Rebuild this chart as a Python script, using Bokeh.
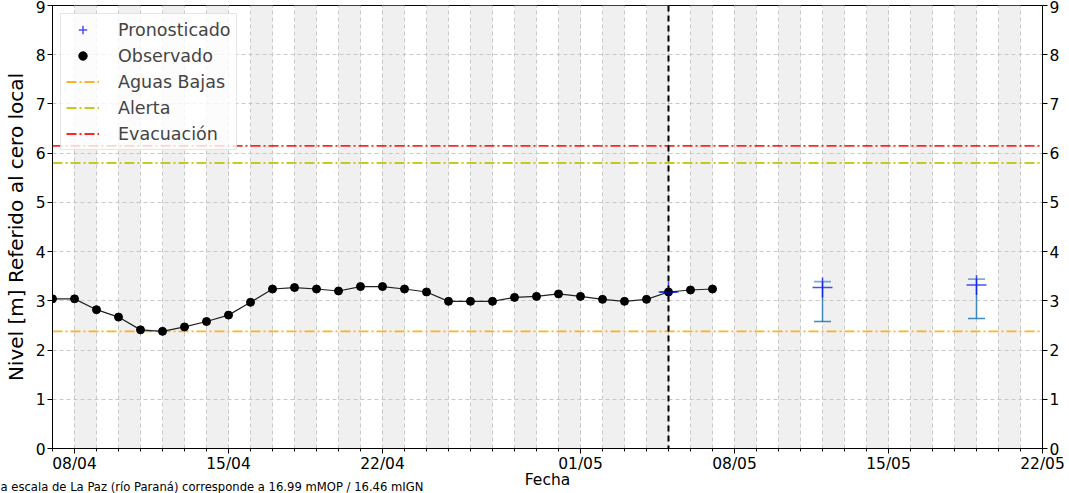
import pandas as pd
from bokeh.plotting import figure
from bokeh.models import (LinearAxis, FixedTicker, DatetimeTickFormatter, Range1d, Span,
                          Whisker, TeeHead, ColumnDataSource, Title, Legend, LegendItem)
from bokeh.embed import file_html
from bokeh.resources import INLINE

# ---------------- data ----------------
obs_start, obs_end = "2025-04-07", "2025-05-07"
obs_levels = [3.04, 3.04, 2.82, 2.67, 2.41, 2.38, 2.47, 2.58, 2.71, 2.97,
              3.24, 3.27, 3.24, 3.20, 3.29, 3.29, 3.24, 3.18, 2.99, 2.99,
              2.99, 3.07, 3.09, 3.14, 3.09, 3.03, 2.99, 3.03, 3.18, 3.22, 3.24]
fc_dates = ["2025-05-05", "2025-05-12", "2025-05-19"]
fc_levels = [3.18, 3.27, 3.32]
fc_lower = [3.18, 2.58, 2.64]
fc_upper = [3.18, 3.39, 3.44]
threshold_names = ["Aguas Bajas", "Alerta", "Evacuación"]
threshold_levels = [2.38, 5.80, 6.15]
threshold_colors = ["orange", "#bfbf00", "red"]
x_tick_labels = ["08/04", "15/04", "22/04", "01/05", "08/05", "15/05", "22/05"]
y_ticks = [0, 1, 2, 3, 4, 5, 6, 7, 8, 9]
x_start, x_end = "2025-04-07", "2025-05-22"
today = "2025-05-05"
x_title = "Fecha"
y_title = "Nivel [m] Referido al cero local"
footnote = "a escala de La Paz (río Paraná) corresponde a 16.99 mMOP / 16.46 mIGN"
FONT = "DejaVu Sans"

def ms(t):
    return int(pd.Timestamp(t).timestamp() * 1000)

obs_dates = pd.date_range(obs_start, obs_end, freq="D")
fc_dt = pd.to_datetime(fc_dates)
tick_dt = pd.to_datetime([s + "/2025" for s in x_tick_labels], format="%d/%m/%Y")
days = pd.date_range(x_start, x_end, freq="D")
band_starts = pd.date_range(tick_dt[0], pd.Timestamp(x_end) - pd.Timedelta(days=1), freq="2D")

# ---------------- figure ----------------
p = figure(width=1069, height=493, x_axis_type="datetime",
           x_range=Range1d(ms(x_start), ms(x_end)), y_range=Range1d(0, 9),
           output_backend="svg", toolbar_location=None,
           min_border_left=52, min_border_right=27, min_border_top=5, min_border_bottom=45,
           background_fill_color="white", border_fill_color="white")
p.outline_line_color = "black"
p.outline_line_width = 1

# alternate day bands
p.quad(left=band_starts, right=band_starts + pd.Timedelta(days=1), bottom=0, top=9,
       fill_color="#f0f0f0", line_color=None, level="image")

# axes
xt = FixedTicker(ticks=[ms(t) for t in tick_dt], minor_ticks=[ms(d) for d in days])
p.xaxis[0].ticker = xt
fmt = "%d/%m"
p.xaxis[0].formatter = DatetimeTickFormatter(days=fmt, months=fmt, hours=fmt, years=fmt,
                                             hourmin=fmt, minutes=fmt)
yt = FixedTicker(ticks=y_ticks)
p.yaxis[0].ticker = yt
p.yaxis[0].axis_label = y_title
p.yaxis[0].axis_label_text_font_size = "20px"
p.yaxis[0].axis_label_text_font_style = "normal"
p.yaxis[0].axis_label_text_font = FONT
p.yaxis[0].axis_label_text_color = "black"
p.yaxis[0].axis_label_standoff = 5
right_ax = LinearAxis(ticker=FixedTicker(ticks=y_ticks))
p.add_layout(right_ax, "right")
for ax in [p.xaxis[0], p.yaxis[0], right_ax]:
    ax.major_label_text_font = FONT
    ax.major_label_text_font_size = "15.5px"
    ax.major_label_text_color = "black"
    ax.major_tick_out = 5
    ax.major_tick_in = 0
    ax.major_label_standoff = 2
    ax.axis_line_color = "black"
p.xaxis[0].major_label_standoff = 1
p.xaxis[0].minor_tick_out = 3
p.xaxis[0].minor_tick_in = 0
for ax in [p.yaxis[0], right_ax]:
    ax.minor_tick_line_color = None

# grid
p.xgrid.grid_line_color = "#c8c8c8"
p.xgrid.grid_line_dash = "4 3"
p.xgrid.minor_grid_line_color = "#c8c8c8"
p.xgrid.minor_grid_line_dash = "4 3"
p.ygrid.ticker = yt
p.ygrid.grid_line_color = "#c8c8c8"
p.ygrid.grid_line_dash = "4 3"

# threshold lines
thr_renderers = []
for name, lvl, col in zip(threshold_names, threshold_levels, threshold_colors):
    r = p.line([ms(x_start), ms(x_end)], [lvl, lvl], line_color=col, line_width=1.8,
               line_dash="10 3 2 3", line_alpha=0.85)
    thr_renderers.append(r)

# observed
p.line(obs_dates, obs_levels, line_color="#222222", line_width=1.2)
obs_r = p.scatter(obs_dates, obs_levels, size=8, color="black")

# today line
p.add_layout(Span(location=ms(today), dimension="height", line_color="black",
                  line_width=2, line_dash="6 4"))

# forecast with error bars
src = ColumnDataSource(dict(x=fc_dt, y=fc_levels, lower=fc_lower, upper=fc_upper))
wcol = "#1f77b4"
p.add_layout(Whisker(base="x", lower="lower", upper="upper", source=src, dimension="height",
                     line_color=wcol, line_width=1.5, line_alpha=0.85,
                     upper_head=TeeHead(size=17, line_color=wcol, line_alpha=0.6, line_width=1.8),
                     lower_head=TeeHead(size=17, line_color=wcol, line_alpha=0.85, line_width=1.5)))
fc_r = p.scatter("x", "y", source=src, marker="cross", size=20, line_color="blue",
                 line_alpha=0.7, line_width=1.5)

# legend
items = [LegendItem(label="Pronosticado", renderers=[fc_r]),
         LegendItem(label="Observado", renderers=[obs_r])]
for name, r in zip(threshold_names, thr_renderers):
    items.append(LegendItem(label=name, renderers=[r]))
leg = Legend(items=items, location="top_left", margin=8, padding=5, spacing=5,
             glyph_width=33, glyph_height=21, label_height=21, label_standoff=19,
             label_text_font=FONT, label_text_font_size="17.5px",
             border_line_color="#cccccc", background_fill_alpha=0.8)
p.add_layout(leg)

# bottom texts (side panels below the x axis)
p.add_layout(Title(text=x_title, align="center", vertical_align="middle", standoff=-12,
                   text_font=FONT, text_font_size="15.5px", text_font_style="normal",
                   text_color="black"), "below")
p.add_layout(Title(text=footnote, align="left", vertical_align="middle", standoff=-9,
                   offset=-52, text_font=FONT, text_font_size="11.6px",
                   text_font_style="normal", text_color="black"), "below")

open("out.html", "w").write(file_html(p, INLINE))
